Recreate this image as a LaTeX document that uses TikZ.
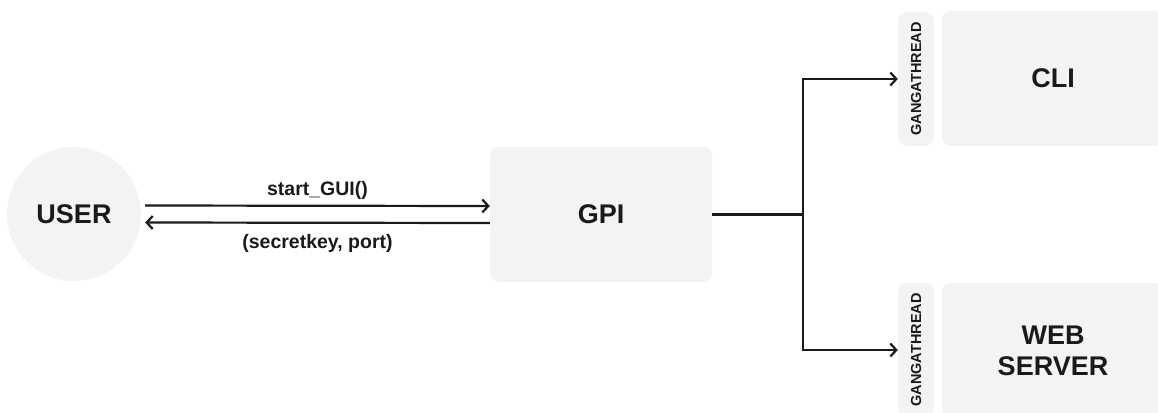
\documentclass[tikz,border=0pt]{standalone}
\usepackage{fontspec}
\setmainfont{Liberation Sans}
\usetikzlibrary{arrows.meta}
\definecolor{boxfill}{HTML}{F3F3F3}
\definecolor{ink}{HTML}{1A1A1A}
\begin{document}
\begin{tikzpicture}[x=1pt,y=-1pt,
  arr/.style={draw=ink,line width=2.2pt,-{Straight Barb[length=6pt,width=13pt,line width=2.2pt]}},
  conn/.style={draw=ink,line width=2.2pt},
  bigbox/.style={fill=boxfill,rounded corners=9pt,inner sep=0pt,font=\fontsize{27}{31}\selectfont\bfseries,text=ink,align=center},
  pill/.style={fill=boxfill,rounded corners=9pt,inner sep=0pt,minimum width=36pt,font=\fontsize{14.5}{16}\selectfont\bfseries,text=ink},
  elabel/.style={font=\fontsize{19.5}{22}\selectfont\bfseries,text=ink,inner sep=0pt}]
\useasboundingbox (0,0) rectangle (1158,412);
\clip (0,0) rectangle (1158,412);
% nodes
\node[circle,fill=boxfill,minimum size=134pt,inner sep=0pt,font=\fontsize{27}{31}\selectfont\bfseries,text=ink] (user) at (74,214) {USER};
\node[bigbox,minimum width=222pt,minimum height=135pt] (gpi) at (601,214.5) {GPI};
\node[bigbox,minimum width=222pt,minimum height=135pt] (cli) at (1053,78.5) {CLI};
\node[bigbox,minimum width=222pt,minimum height=135pt] (web) at (1053,350.5) {WEB\\SERVER};
\node[pill,minimum height=134pt] (p1) at (916,79) {\rotatebox{90}{GANGATHREAD}};
\node[pill,minimum height=134pt] (p2) at (916,350) {\rotatebox{90}{GANGATHREAD}};
\coordinate (j) at (803,214.5);
% connectors user <-> gpi
\draw[arr] ([xshift=4pt,yshift=8.5pt]user.east) -- ([yshift=8.5pt]gpi.west)
  node[elabel,midway,above=5pt] (l1) {start\_GUI()};
\draw[arr] ([yshift=-8.5pt]gpi.west) -- ([xshift=4pt,yshift=-8.5pt]user.east)
  node[elabel,midway,below=11pt] (l2) {(secretkey, port)};
% gpi to threads
\draw[conn] (gpi.east) -- (j);
\draw[arr] (j) |- (p1.west);
\draw[arr] (j) |- (p2.west);
\end{tikzpicture}
\end{document}
